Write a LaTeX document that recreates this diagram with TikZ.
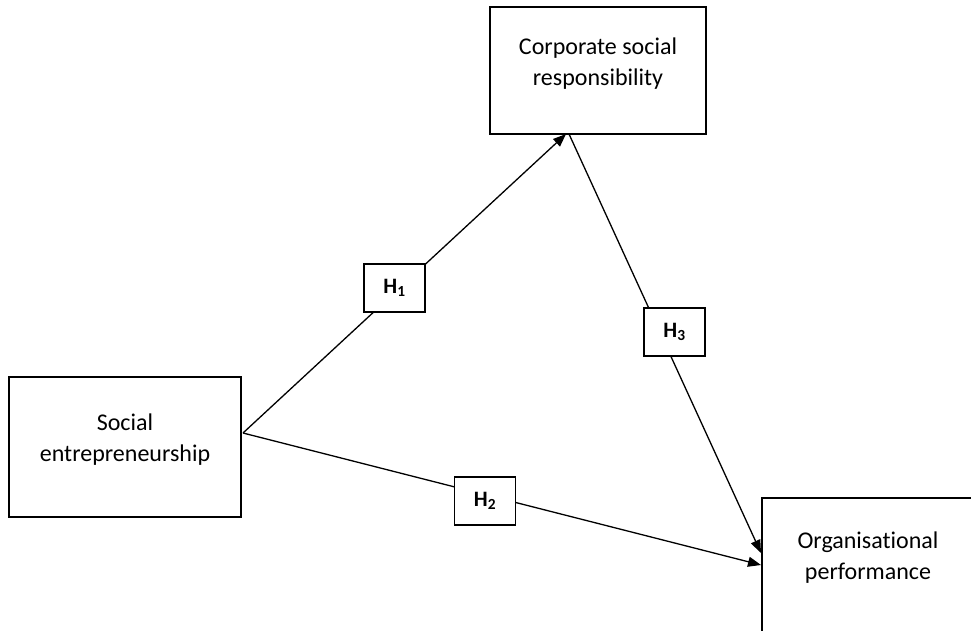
\documentclass[tikz,border=0pt]{standalone}
\usepackage{fontspec}
\setmainfont{Carlito}[Ligatures={NoCommon}]
\usetikzlibrary{arrows.meta}
\begin{document}
\begin{tikzpicture}[x=1pt,y=-1pt,
  bigbox/.style={draw=black,line width=1.6pt,fill=white,inner sep=0pt},
  hbox/.style={draw=black,line width=1.5pt,fill=white,inner sep=0pt,minimum width=61pt,minimum height=48pt,font=\fontsize{22}{26}\selectfont\bfseries},
  lbl/.style={align=center,font=\fontsize{24}{31}\selectfont,inner sep=0pt},
  conn/.style={line width=1.3pt,-{Triangle[length=13pt,width=10pt]}}]
\useasboundingbox (0,0) rectangle (971,630);
\clip (0,0) rectangle (971,630);
% boxes
\node[bigbox,minimum width=216pt,minimum height=127pt] (csr) at (598,70.5) {};
\node[lbl] (csrt) at (598,64) {Corporate social\\responsibility};
\node[bigbox,minimum width=232pt,minimum height=140pt] (se) at (125,447) {};
\node[lbl] (set) at (125,440) {Social\\entrepreneurship};
\node[bigbox,minimum width=212pt,minimum height=134pt] (op) at (868,565) {};
\node[lbl] (opt) at (868,558) {Organisational\\performance};
% connector end points
\coordinate (s) at (243,433);
\coordinate (c1) at (566,134);
\coordinate (c3) at (569,134);
\coordinate (o2) at (761,565);
\coordinate (o3) at (761,553);
% connectors
\draw[conn] (s) -- (c1);
\draw[conn] (s) -- (o2);
\draw[conn] (c3) -- (o3);
% hypothesis boxes
\node[hbox] (h1) at (394.5,288) {H\textsubscript{1}};
\node[hbox] (h2) at (485,501) {H\textsubscript{2}};
\node[hbox] (h3) at (674.5,332) {H\textsubscript{3}};
\end{tikzpicture}
\end{document}
